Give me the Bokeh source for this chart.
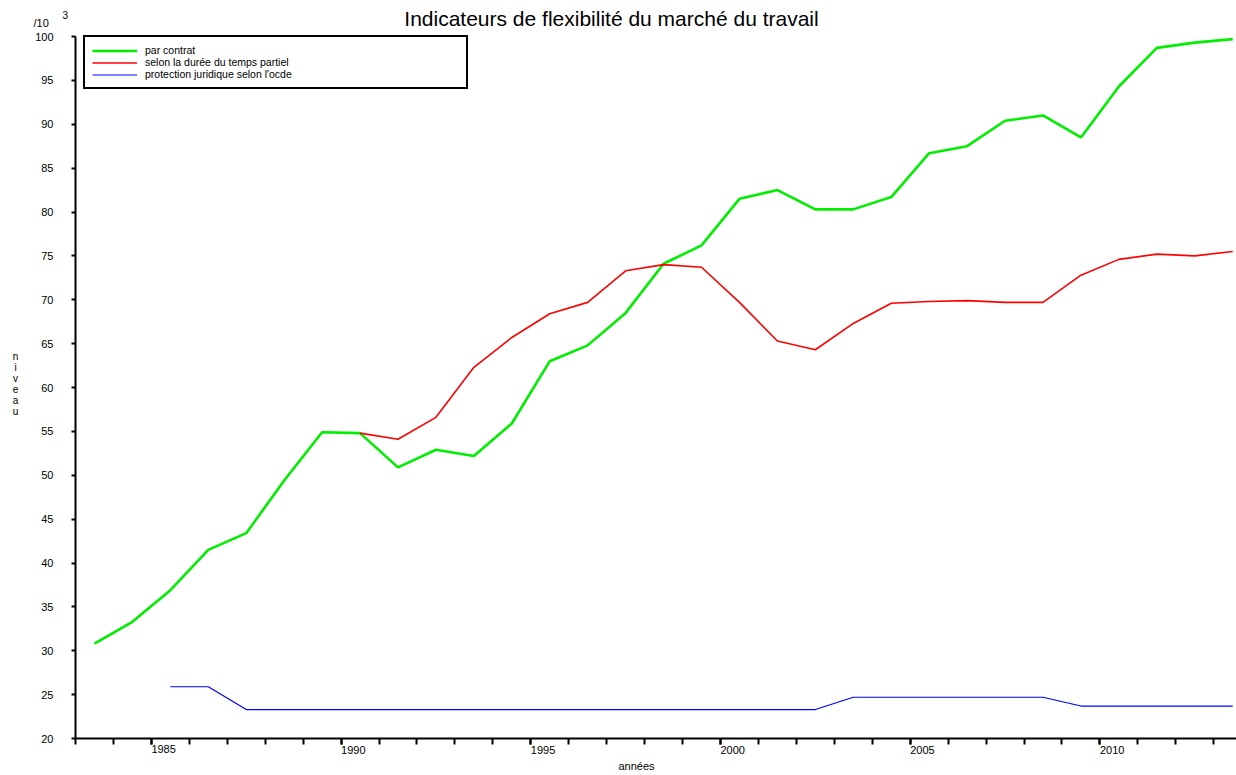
from bokeh.plotting import figure
from bokeh.models import Legend, LegendItem, SingleIntervalTicker, Label, Range1d
from bokeh.embed import file_html
from bokeh.resources import INLINE

# ---- data ----
years_contrat = [1983, 1984, 1985, 1986, 1987, 1988, 1989, 1990, 1991, 1992,
                 1993, 1994, 1995, 1996, 1997, 1998, 1999, 2000, 2001, 2002,
                 2003, 2004, 2005, 2006, 2007, 2008, 2009, 2010, 2011, 2012, 2013]
par_contrat = [30.8, 33.3, 36.9, 41.5, 43.4, 49.4, 54.9, 54.8, 50.9, 52.9,
               52.2, 55.9, 63.0, 64.8, 68.5, 74.1, 76.2, 81.5, 82.5, 80.3,
               80.3, 81.7, 86.7, 87.5, 90.4, 91.0, 88.5, 94.3, 98.7, 99.3, 99.7]

years_partiel = [1990, 1991, 1992, 1993, 1994, 1995, 1996, 1997, 1998, 1999,
                 2000, 2001, 2002, 2003, 2004, 2005, 2006, 2007, 2008, 2009,
                 2010, 2011, 2012, 2013]
temps_partiel = [54.8, 54.1, 56.6, 62.3, 65.7, 68.4, 69.7, 73.3, 74.0, 73.7,
                 69.7, 65.3, 64.3, 67.3, 69.6, 69.8, 69.9, 69.7, 69.7, 72.8,
                 74.6, 75.2, 75.0, 75.5]

years_ocde = [1985, 1986, 1987, 1988, 1989, 1990, 1991, 1992, 1993, 1994,
              1995, 1996, 1997, 1998, 1999, 2000, 2001, 2002, 2003, 2004,
              2005, 2006, 2007, 2008, 2009, 2010, 2011, 2012, 2013]
protection_ocde = [25.9, 25.9, 23.3, 23.3, 23.3, 23.3, 23.3, 23.3, 23.3, 23.3,
                   23.3, 23.3, 23.3, 23.3, 23.3, 23.3, 23.3, 23.3, 24.7, 24.7,
                   24.7, 24.7, 24.7, 24.7, 23.7, 23.7, 23.7, 23.7, 23.7]

series_labels = ["par contrat", "selon la durée du temps partiel",
                 "protection juridique selon l'ocde"]
title_text = "Indicateurs de flexibilité du marché du travail"
x_label = "années"
y_label = "niveau"
unit_text = "/10"
unit_exp = "3"

FONT = "Liberation Sans"

# axis extents and the margin around them (the frame covers the whole canvas,
# axes are pinned at the corner of the data area)
X0, X1 = 1983, 2013.6
Y0, Y1 = 20, 100
W, H = 1236, 775
LEFT, TOP, BOTTOM = 75, 36, 738
px_x = (W - LEFT) / (X1 - X0)
px_y = (BOTTOM - TOP) / (Y1 - Y0)


def mid(years):
    # yearly values are drawn at mid-year
    return [y + 0.5 for y in years]


p = figure(width=W, height=H, output_backend="svg", toolbar_location=None,
           x_range=Range1d(X0 - LEFT / px_x, X1),
           y_range=Range1d(Y0 - (H - BOTTOM) / px_y, Y1 + TOP / px_y),
           min_border=0, title_location=None)
p.outline_line_color = None
p.xgrid.visible = False
p.ygrid.visible = False
p.background_fill_color = "white"
p.border_fill_color = "white"

r1 = p.line(mid(years_contrat), par_contrat, line_color="#00ee00", line_width=2.6)
r2 = p.line(mid(years_partiel), temps_partiel, line_color="#ff0000", line_width=1.6)
r3 = p.line(mid(years_ocde), protection_ocde, line_color="#0000ff", line_width=1.2)

# axes
xa = p.xaxis[0]
xa.fixed_location = Y0
xa.bounds = (X0, X1)
xa.ticker = SingleIntervalTicker(interval=5, num_minor_ticks=5)
xa.axis_line_width = 2
xa.axis_line_color = "black"
xa.major_tick_line_width = 2
xa.minor_tick_line_width = 2
xa.major_tick_line_color = "black"
xa.minor_tick_line_color = "black"
xa.major_tick_out = 6
xa.major_tick_in = 0
xa.minor_tick_out = 6
xa.minor_tick_in = 0
# a tiny negative angle makes the labels start at their tick (left aligned)
xa.major_label_orientation = -1e-6
xa.major_label_standoff = 5
xa.major_label_text_font = FONT
xa.major_label_text_font_size = "11px"
xa.major_label_text_color = "black"

ya = p.yaxis[0]
ya.fixed_location = X0
ya.bounds = (Y0, Y1)
ya.ticker = SingleIntervalTicker(interval=5, num_minor_ticks=0)
ya.axis_line_width = 2
ya.axis_line_color = "black"
ya.major_tick_line_width = 2
ya.major_tick_line_color = "black"
ya.major_tick_out = 4
ya.major_tick_in = 0
ya.minor_tick_out = 0
ya.minor_tick_in = 0
ya.major_label_standoff = 18
ya.major_label_text_font = FONT
ya.major_label_text_font_size = "11px"
ya.major_label_text_color = "black"


def add_text(text, x, y, dx, dy, size, align="left", baseline="alphabetic",
             line_height=1.2):
    p.add_layout(Label(x=x, y=y, x_offset=dx, y_offset=dy, text=text,
                       text_font=FONT, text_font_size=size, text_color="black",
                       text_align=align, text_baseline=baseline,
                       text_line_height=line_height))


# title, unit marker, axis titles
add_text(title_text, X0, Y1, 536, 18, "21px", align="center")
add_text(unit_text, X0, Y1, -42, 14, "11px")
add_text(unit_exp, X0, Y1, -13, 22, "10px")
add_text("\n".join(list(y_label)), X0, (Y0 + Y1) / 2, -60, 4, "10px",
         align="center", baseline="middle", line_height=1.0)
add_text(x_label, X0, Y0, 561, -27, "11px", align="center", baseline="middle")

legend = Legend(items=[LegendItem(label=series_labels[0], renderers=[r1]),
                       LegendItem(label=series_labels[1], renderers=[r2]),
                       LegendItem(label=series_labels[2], renderers=[r3])],
                location=(83, H - 87 - 2), orientation="vertical",
                glyph_width=45, glyph_height=11, label_height=11,
                label_width=314, label_standoff=8, spacing=0, padding=7,
                margin=0, border_line_color="black", border_line_width=2,
                border_line_alpha=1.0, background_fill_alpha=1.0,
                label_text_font=FONT, label_text_font_size="10.5px",
                label_text_color="black")
p.add_layout(legend)

open("out.html", "w").write(file_html(p, INLINE))
